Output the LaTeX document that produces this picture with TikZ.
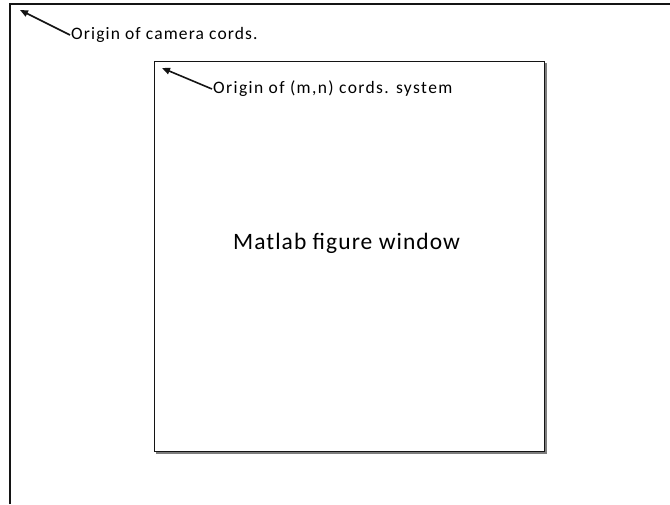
\documentclass[tikz,border=0pt]{standalone}
\usepackage{fontspec}
\setmainfont{Carlito}
\usepackage{xcolor}
\usetikzlibrary{arrows.meta, positioning}
\definecolor{mydark}{RGB}{20,20,20}
\definecolor{myshade}{RGB}{125,125,125}
\tikzset{
  frame/.style={draw=mydark, line width=1.2pt},
  note/.style={font=\fontsize{17.5}{20}\selectfont\addfontfeatures{LetterSpace=6.5}, inner sep=1pt, anchor=west},
  title/.style={font=\fontsize{23.5}{27}\selectfont\addfontfeatures{LetterSpace=4.5}, inner sep=1pt},
  pointer/.style={-{Triangle[length=8pt,width=6.5pt]}, line width=1.6pt, color=mydark}
}

\begin{document}
\begin{tikzpicture}[x=1pt, y=-1pt]
  \useasboundingbox (0,0) rectangle (670,504);

  % screen edge (cropped at right and bottom)
  \draw[frame] (10,504) -- (10,4) -- (670,4);
  \coordinate (camorigin) at (20,10);
  \node[note] (cam) at (70,35) {Origin of camera cords.};
  \draw[pointer] (cam.west) -- (camorigin);

  % figure window
  \draw[myshade, line width=1.2pt] (546,63) -- (546,453) -- (156,453);
  \node[frame, minimum width=390pt, minimum height=390pt, inner sep=0pt] (win) at (349.6,256.4) {};
  \node[title] (wintitle) at ([xshift=-3pt, yshift=13pt]win.center) {Matlab figure window};
  \coordinate (mnorigin) at (162,68);
  \node[note, font=\fontsize{17.5}{20}\selectfont\addfontfeatures{LetterSpace=8}] (mn) at (212,89) {Origin of (m,n) cords. system};
  \draw[pointer] (mn.west) -- (mnorigin);
\end{tikzpicture}
\end{document}
